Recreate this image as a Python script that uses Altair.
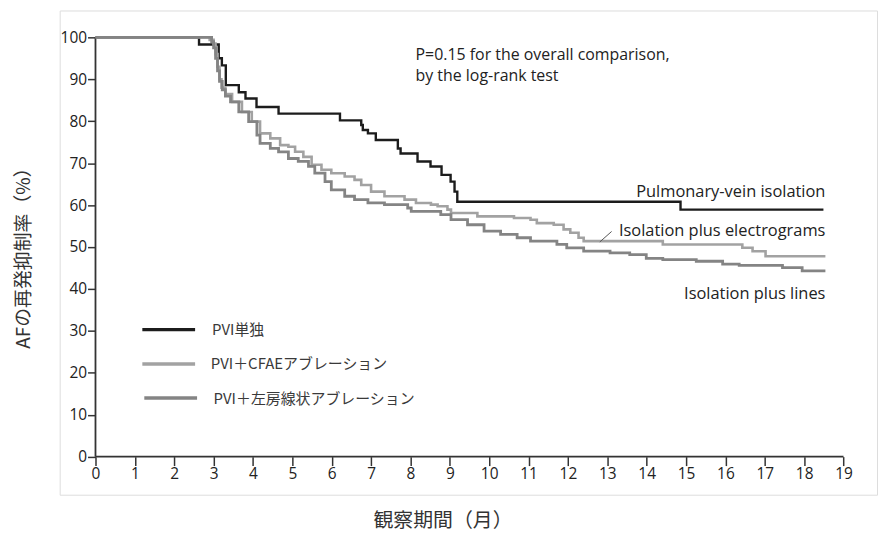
import altair as alt
import pandas as pd

# ---- data (months, % free of AF) ----
series_names = ["PVI単独", "PVI＋CFAEアブレーション", "PVI＋左房線状アブレーション"]
series_colors = ["#1c1c1c", "#a2a2a2", "#848484"]

pvi_x = [0, 2.63, 3.13, 3.21, 3.31, 3.64, 3.81, 4.09, 4.65, 6.21, 6.75, 6.79, 6.92, 7.12,
         7.68, 7.75, 8.18, 8.51, 8.79, 9.02, 9.12, 9.19, 14.86, 18.49]
pvi_y = [100, 98.3, 95.0, 93.3, 88.6, 86.9, 85.4, 83.4, 81.8, 80.2, 79.1, 77.9, 77.1, 75.5,
         73.5, 72.3, 70.4, 69.2, 67.2, 65.6, 63.2, 60.8, 58.9, 58.9]

cfae_x = [0, 2.9, 3.0, 3.05, 3.1, 3.15, 3.2, 3.3, 3.47, 3.72, 3.97, 4.18, 4.44, 4.69, 4.90,
          5.07, 5.28, 5.49, 5.74, 5.99, 6.33, 6.58, 6.75, 7.00, 7.34, 7.85, 8.14, 8.52, 8.69,
          8.94, 9.03, 9.70, 10.63, 11.05, 11.21, 11.64, 11.89, 12.06, 12.27, 12.40, 14.41,
          16.43, 16.69, 17.02, 18.54]
cfae_y = [100, 99.4, 98.5, 96, 93, 90, 88, 86.5, 84.6, 82.2, 79.9, 77.1, 75.9, 74.3, 73.9,
          72.7, 71.5, 69.6, 68.4, 67.6, 66.8, 66.0, 64.8, 63.2, 62.1, 61.3, 60.5, 60.1, 59.7,
          58.9, 58.1, 57.3, 56.9, 56.5, 55.7, 55.3, 54.2, 53.4, 52.2, 51.4, 50.6,
          49.8, 49.0, 47.8, 47.8]

lines_x = [0, 2.95, 3.0, 3.05, 3.1, 3.15, 3.22, 3.3, 3.43, 3.64, 3.89, 4.10, 4.18, 4.44, 4.65,
           4.90, 5.15, 5.41, 5.57, 5.83, 5.99, 6.33, 6.58, 6.92, 7.34, 7.93, 8.02, 8.77, 9.03,
           9.45, 9.87, 10.29, 10.71, 11.05, 11.72, 11.97, 12.40, 13.07, 13.57, 13.99, 14.41,
           15.26, 15.93, 16.35, 17.45, 17.95, 18.54]
lines_y = [100, 99.0, 97.5, 95, 92, 89.5, 87.5, 86, 84.6, 82.2, 79.9, 76.7, 74.7, 73.5, 72.7,
           71.1, 70.4, 69.2, 67.6, 65.6, 63.6, 62.1, 61.3, 60.5, 60.1, 59.3, 58.5, 57.7, 56.5,
           55.3, 53.8, 53.0, 52.2, 51.4, 50.6, 49.8, 49.0, 48.6, 48.2, 47.3, 47.0,
           46.6, 45.9, 45.6, 45.1, 44.3, 44.3]

x_ticks = list(range(0, 20))
y_ticks = list(range(0, 101, 10))

annot_p = ["P=0.15 for the overall comparison,", "by the log-rank test"]
curve_labels = ["Pulmonary-vein isolation", "Isolation plus electrograms", "Isolation plus lines"]
x_title = "観察期間（月）"
y_title = "AFの再発抑制率（%）"

# ---- tables ----
frames = []
for name, xs_, ys_ in zip(series_names, [pvi_x, cfae_x, lines_x], [pvi_y, cfae_y, lines_y]):
    frames.append(pd.DataFrame({"x": xs_, "y": ys_, "series": name}))
curves = pd.concat(frames, ignore_index=True)

TXT = "Open Sans"
CJK = "Noto Sans CJK JP"

xs = alt.Scale(domain=[-0.909, 19.851], nice=False, zero=False)
ys = alt.Scale(domain=[-9.08, 106.40], nice=False, zero=False)
cs = alt.Scale(domain=series_names, range=series_colors)

x_axis = alt.Axis(values=x_ticks, domain=False, grid=False, tickSize=9, tickWidth=1.5,
                  tickColor="#333", labelFontSize=15.5, labelFont=TXT, labelColor="#222",
                  labelPadding=1, offset=-38.3, labelFlush=False, labelOverlap=False,
                  title=x_title, titleFont=CJK, titleFontSize=20, titleFontWeight="normal",
                  titleColor="#333", titleX=385, titleY=64, titleBaseline="middle",
                  titleAlign="center")
y_axis = alt.Axis(values=y_ticks, domain=False, grid=False, tickSize=8, tickWidth=1.5,
                  tickColor="#333", labelFontSize=15.5, labelFont=TXT, labelColor="#222",
                  labelPadding=1, offset=-36, labelFlush=False, labelOverlap=False,
                  title=y_title, titleFont=CJK, titleFontSize=19, titleFontWeight="normal",
                  titleColor="#333", titleX=-72, titleY=244, titleAngle=270,
                  titleBaseline="middle", titleAlign="center")


def X(f="x"):
    return alt.X(f, type="quantitative", scale=xs, axis=x_axis)


def Y(f="y"):
    return alt.Y(f, type="quantitative", scale=ys, axis=y_axis)


col = alt.Color("series:N", scale=cs, legend=None)

# axis lines (only over 0..19 and 0..100)
axis_lines = alt.Chart(pd.DataFrame({"x": [0, 0], "x2": [19, 0], "y": [0, 0], "y2": [0, 100]})).mark_rule(
    color="#333", strokeWidth=1.8).encode(x=X(), x2="x2:Q", y=Y(), y2="y2:Q")

lines = alt.Chart(curves).mark_line(interpolate="step-after").encode(
    x=X(), y=Y(), color=col, detail="series:N",
    strokeWidth=alt.StrokeWidth("series:N", scale=alt.Scale(domain=series_names, range=[2.4, 2.8, 2.8]),
                                legend=None))

# annotation text
p_df = pd.DataFrame({"x": [8.13, 8.13], "y": [94.5, 89.6], "t": annot_p})
p_text = alt.Chart(p_df).mark_text(align="left", baseline="alphabetic", font=TXT, fontSize=16,
                                    color="#222").encode(x=X(), y=Y(), text="t:N")

c_df = pd.DataFrame({"x": [18.54, 18.54, 18.54], "y": [62.0, 52.6, 37.6], "t": curve_labels})
c_text = alt.Chart(c_df).mark_text(align="right", baseline="alphabetic", font=TXT, fontSize=16.5,
                                    color="#222").encode(x=X(), y=Y(), text="t:N")

leader = alt.Chart(pd.DataFrame({"x": [12.81], "x2": [13.11], "y": [51.2], "y2": [53.7]})).mark_rule(
    color="#555", strokeWidth=1).encode(x=X(), x2="x2:Q", y=Y(), y2="y2:Q")

# legend drawn inside the plot
leg_df = pd.DataFrame({"series": series_names,
                       "x": [1.19, 1.19, 1.24], "x2": [2.53, 2.53, 2.58],
                       "y": [30.3, 22.1, 14.0],
                       "tx": [2.96, 2.93, 3.0], "ty": [30.3, 22.2, 13.7]})
leg_lines = alt.Chart(leg_df).mark_rule(strokeWidth=3.4).encode(
    x=X(), x2="x2:Q", y=Y(), color=col)
leg_text = alt.Chart(leg_df).mark_text(align="left", baseline="middle", font=CJK, fontSize=15,
                                        color="#3a3a3a").encode(x=X("tx"), y=Y("ty"), text="series:N")

chart = alt.layer(axis_lines, lines, leader, p_text, c_text, leg_lines, leg_text).properties(
    width=822, height=487,
    autosize=alt.AutoSizeParams(type="none"),
    padding={"left": 52, "top": 1, "right": 2, "bottom": 37},
).configure_view(stroke="#707070", strokeWidth=1.8).configure(background="white")

chart.save("out.html", embed_options={"renderer": "svg", "actions": False})
